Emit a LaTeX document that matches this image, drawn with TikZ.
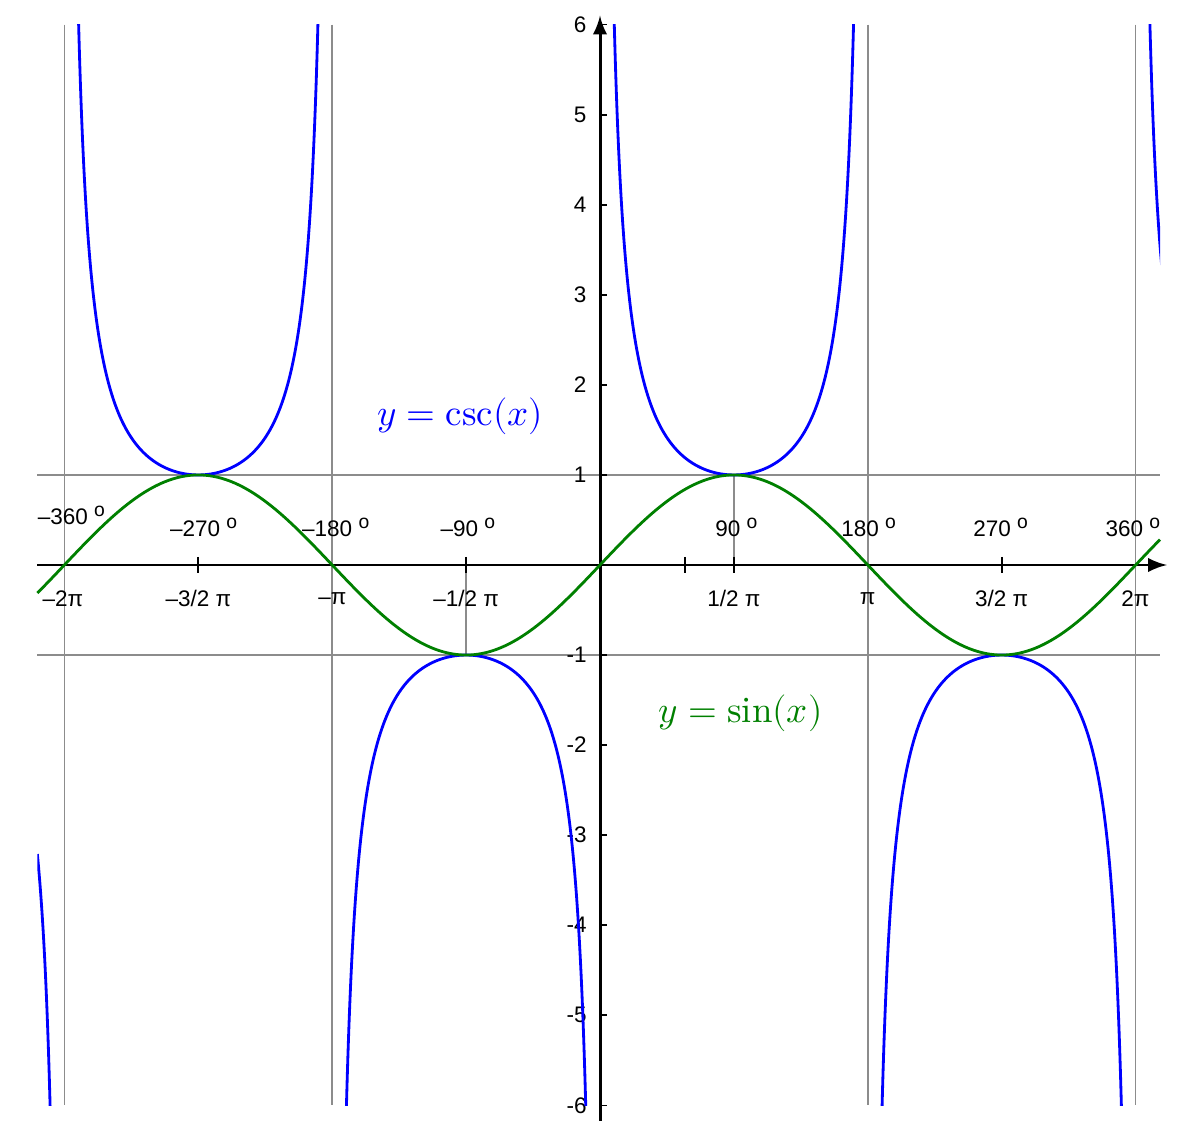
\documentclass[tikz,border=0pt]{standalone}
\usepackage{fontspec}
\setmainfont{Liberation Sans}
\usepackage{unicode-math}
\setmathfont{Latin Modern Math}
\setmathrm{Latin Modern Roman}
\definecolor{ggreen}{RGB}{0,128,0}
\begin{document}
\begin{tikzpicture}[x=0.01cm,y=0.01cm,
  grid/.style={gray!90,line width=0.4pt},
  lab/.style={font=\fontsize{6.4}{7.5}\selectfont,inner sep=0},
  ax/.style={line width=0.85pt,-latex}]
\useasboundingbox (0,0) rectangle (1200,-1131);
\begin{scope}[shift={(600,-565)},x=0.852cm,y=0.9cm]
 % grid
 \foreach \k in {-2,-1,1,2} \draw[grid] ({\k*pi},6) -- ({\k*pi},-6);
 \draw[grid] (-6.6,1) -- (6.57,1);
 \draw[grid] (-6.6,-1) -- (6.57,-1);
 \draw[grid] ({pi/2},0) -- ({pi/2},1);
 \draw[grid] ({-pi/2},0) -- ({-pi/2},-1);
 % axes
 \coordinate (xl) at (-6.6,0); \coordinate (xr) at (6.65,0);
 \coordinate (yb) at (0,-6.17); \coordinate (yt) at (0,6.1);
 \draw[ax] (xl) -- (xr);
 \draw[ax] (yb) -- (yt);
 \foreach \k in {-3,-1,1,3} \draw[line width=0.45pt] ({\k*pi/2},0.09) -- ({\k*pi/2},-0.09);
 \draw[line width=0.45pt] (1,0.09) -- (1,-0.09);
 \foreach \v in {1,...,6} {
   \draw[line width=0.45pt] (0,\v) -- (0.08,\v);
   \draw[line width=0.45pt] (0,-\v) -- (0.08,-\v);
   \node[lab,anchor=east] (p\v) at (-0.15,\v) {\v};
   \node[lab,anchor=east] (m\v) at (-0.15,-\v) {-\v};
 }
 % curves
 \begin{scope}
 \clip (-6.6,-6) rectangle (6.57,6);
 \foreach \a/\b in {-6.6/-6.2932,-6.2732/-3.1516,-3.1316/-0.01,0.01/3.1316,3.1516/6.2732,6.2932/6.6}
   \draw[blue,line width=0.8pt,domain=\a:\b,samples=300,smooth] plot (\x,{1/sin(\x r)});
 \end{scope}
 \draw[ggreen,line width=0.8pt,domain=-6.6:6.57,samples=200,smooth] plot (\x,{sin(\x r)});
 % labels
 \foreach \px/\t/\n in {-6.3/{–2π}/r1,-4.71/{–3/2 π}/r2,-3.14/{–π}/r3,-1.57/{–1/2 π}/r4,1.57/{1/2 π}/r5,3.14/{π}/r6,4.71/{3/2 π}/r7,6.28/{2π}/r8}
   \node[lab] (\n) at (\px,-0.37) {\t};
 \foreach \px/\py/\t/\n in {-6.2/0.55/{–360}/d1,-4.65/0.42/{–270}/d2,-3.1/0.42/{–180}/d3,-1.55/0.42/{–90}/d4,1.6/0.42/{90}/d5,3.15/0.42/{180}/d6,4.7/0.42/{270}/d7,6.25/0.42/{360}/d8}
   \node[lab] (\n) at (\px,\py) {\t\ \raisebox{0.7ex}{\fontsize{5.5}{6}\selectfont o}};
 \node[blue,font=\fontsize{10.5}{12}\selectfont] (lc) at (-1.64,1.65) {$y=\mathrm{csc}(x)$};
 \node[ggreen,font=\fontsize{10.5}{12}\selectfont] (ls) at (1.65,-1.65) {$y=\mathrm{sin}(x)$};
\end{scope}
\end{tikzpicture}
\end{document}
